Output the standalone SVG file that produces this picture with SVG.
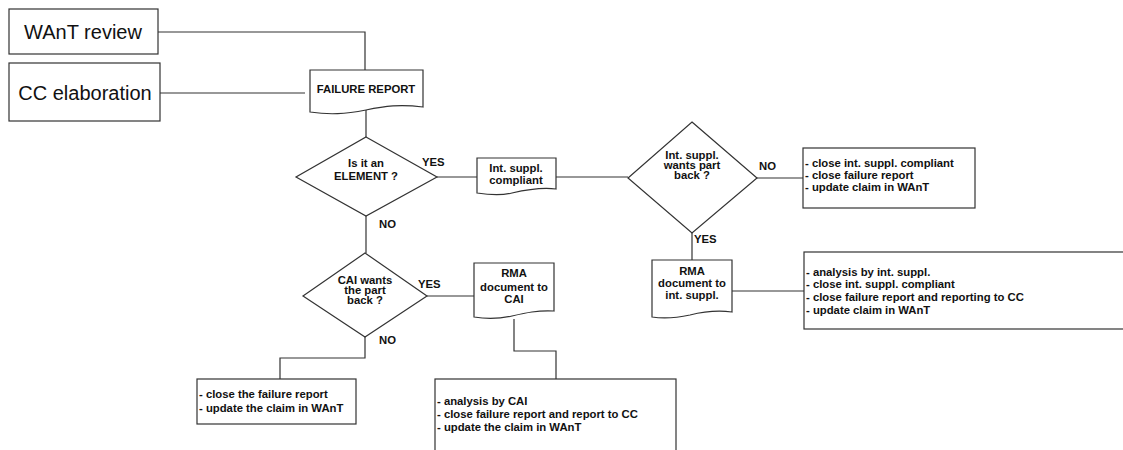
<svg xmlns="http://www.w3.org/2000/svg" width="1123" height="450" viewBox="0 0 1123 450">
  <style>
    .bg { fill: #ffffff; }
    .shape { fill: #ffffff; stroke: #333333; stroke-width: 1.2; }
    .wire { fill: none; stroke: #333333; stroke-width: 1.2; }
    .big { font-family: "Liberation Sans", Arial, sans-serif; font-size: 20px; fill: #111111; }
    .lbl { font-family: "Liberation Sans", Arial, sans-serif; font-size: 11.3px; font-weight: bold; fill: #111111; }
    .mid { text-anchor: middle; }
  </style>
  <rect class="bg" x="0" y="0" width="1123" height="450"/>

  <!-- connectors -->
  <g id="connectors">
    <polyline class="wire" points="158,32 365,32 365,70"/>
    <line class="wire" x1="160" y1="93" x2="305" y2="93"/>
    <line class="wire" x1="366" y1="110" x2="366" y2="137"/>
    <line class="wire" x1="437" y1="177" x2="477" y2="177"/>
    <line class="wire" x1="556" y1="177" x2="628" y2="177"/>
    <line class="wire" x1="757" y1="178" x2="803" y2="178"/>
    <line class="wire" x1="692" y1="233" x2="692" y2="260"/>
    <line class="wire" x1="732" y1="291" x2="804" y2="291"/>
    <line class="wire" x1="366" y1="216" x2="366" y2="253"/>
    <line class="wire" x1="427" y1="296" x2="474" y2="296"/>
    <polyline class="wire" points="514,319 514,351 556,351 556,379"/>
    <polyline class="wire" points="365,337 365,358 280,358 280,379"/>
  </g>

  <!-- edge labels -->
  <g id="edge-labels">
    <text class="lbl" x="422" y="166">YES</text>
    <text class="lbl" x="379" y="228">NO</text>
    <text class="lbl" x="759" y="170">NO</text>
    <text class="lbl" x="694" y="243">YES</text>
    <text class="lbl" x="418" y="288">YES</text>
    <text class="lbl" x="379" y="344">NO</text>
  </g>

  <g id="want-review">
    <rect class="shape" x="9" y="9" width="149" height="45"/>
    <text class="big mid" x="83" y="39">WAnT review</text>
  </g>

  <g id="cc-elaboration">
    <rect class="shape" x="9" y="63" width="151" height="58"/>
    <text class="big mid" x="85" y="100">CC elaboration</text>
  </g>

  <g id="failure-report">
    <path class="shape" d="M310,70 H423 V107 C400,104 385,106 366,110 C345,114 330,115 310,112 Z"/>
    <text class="lbl mid" x="366" y="93">FAILURE REPORT</text>
  </g>

  <g id="is-element">
    <polygon class="shape" points="366,137 437,177 366,216 296,177"/>
    <text class="lbl mid" x="366" y="167">Is it an</text>
    <text class="lbl mid" x="366" y="180">ELEMENT ?</text>
  </g>

  <g id="int-suppl-compliant">
    <path class="shape" d="M477,158 H556 V189 C540,187 525,190 512,193 C500,196 490,195 477,193 Z"/>
    <text class="lbl mid" x="516" y="172">Int. suppl.</text>
    <text class="lbl mid" x="516" y="184">compliant</text>
  </g>

  <g id="int-suppl-wants-back">
    <polygon class="shape" points="692,122 757,178 692,233 628,178"/>
    <text class="lbl mid" x="692" y="159">Int. suppl.</text>
    <text class="lbl mid" x="692" y="169">wants part</text>
    <text class="lbl mid" x="692" y="179">back ?</text>
  </g>

  <g id="close-compliant">
    <rect class="shape" x="803" y="148" width="172" height="60"/>
    <text class="lbl" x="805" y="167">- close int. suppl. compliant</text>
    <text class="lbl" x="805" y="179">- close failure report</text>
    <text class="lbl" x="805" y="191">- update claim in WAnT</text>
  </g>

  <g id="rma-int-suppl">
    <path class="shape" d="M652,260 H732 V312 C716,310 702,312 690,315 C676,318 665,319 652,317 Z"/>
    <text class="lbl mid" x="692" y="275">RMA</text>
    <text class="lbl mid" x="692" y="287">document to</text>
    <text class="lbl mid" x="692" y="299">int. suppl.</text>
  </g>

  <g id="analysis-int-suppl">
    <rect class="shape" x="804" y="252" width="330" height="77"/>
    <text class="lbl" x="806" y="276">- analysis by int. suppl.</text>
    <text class="lbl" x="806" y="288">- close int. suppl. compliant</text>
    <text class="lbl" x="806" y="301">- close failure report and reporting to CC</text>
    <text class="lbl" x="806" y="314">- update claim in WAnT</text>
  </g>

  <g id="cai-wants-back">
    <polygon class="shape" points="365,253 427,296 365,337 303,296"/>
    <text class="lbl mid" x="365" y="284">CAI wants</text>
    <text class="lbl mid" x="365" y="294">the part</text>
    <text class="lbl mid" x="365" y="304">back ?</text>
  </g>

  <g id="rma-cai">
    <path class="shape" d="M474,263 H554 V311 C538,310 525,313 512,316 C498,319 487,319 474,317 Z"/>
    <text class="lbl mid" x="514" y="277">RMA</text>
    <text class="lbl mid" x="514" y="291">document to</text>
    <text class="lbl mid" x="514" y="303">CAI</text>
  </g>

  <g id="close-failure-report">
    <rect class="shape" x="197" y="379" width="159" height="45"/>
    <text class="lbl" x="199" y="398">- close the failure report</text>
    <text class="lbl" x="199" y="412">- update the claim in WAnT</text>
  </g>

  <g id="analysis-cai">
    <rect class="shape" x="435" y="379" width="241" height="80"/>
    <text class="lbl" x="437" y="405">- analysis by CAI</text>
    <text class="lbl" x="437" y="418">- close failure report and report to CC</text>
    <text class="lbl" x="437" y="431">- update the claim in WAnT</text>
  </g>
</svg>
